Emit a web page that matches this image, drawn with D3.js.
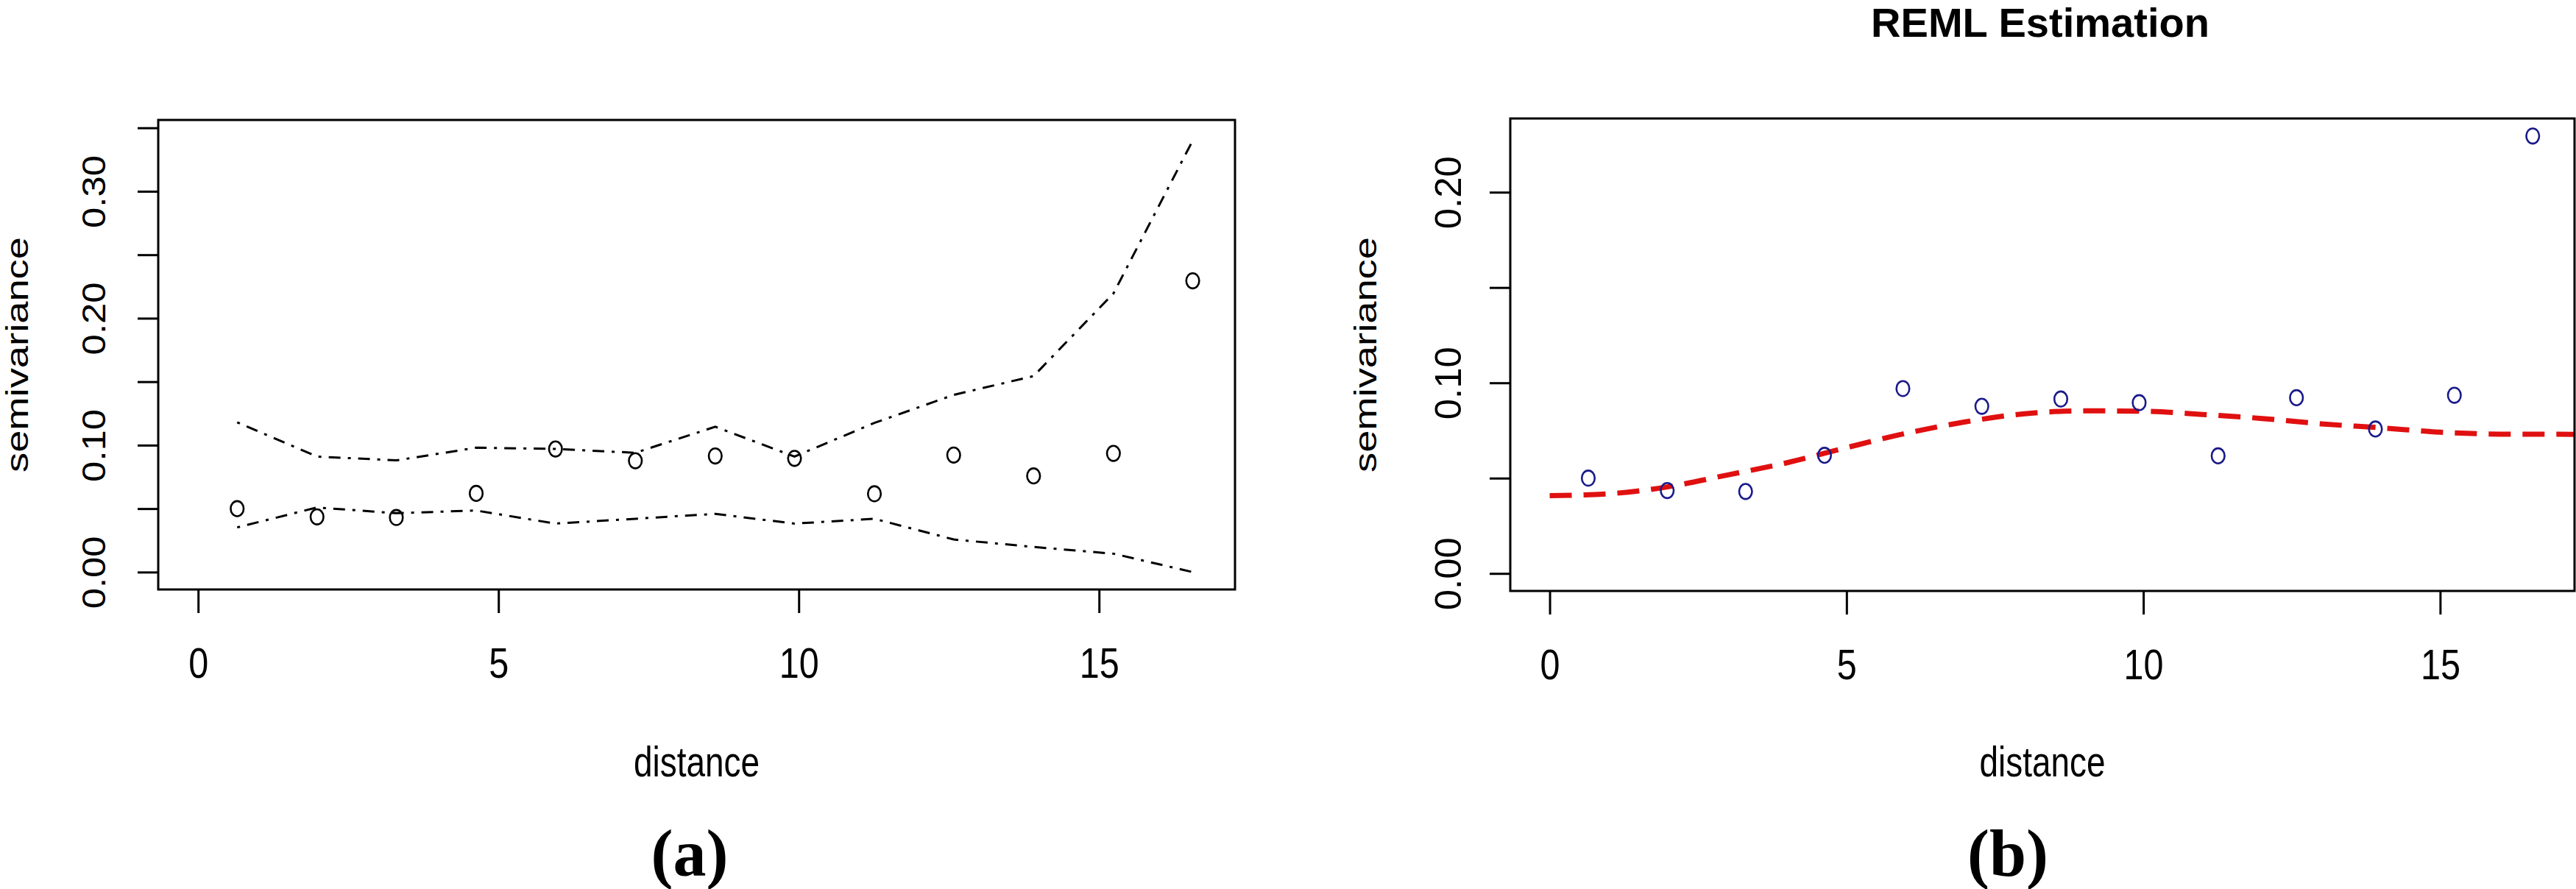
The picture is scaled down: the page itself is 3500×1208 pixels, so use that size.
<!DOCTYPE html>
<html>
<head>
<meta charset="utf-8">
<script src="https://cdn.jsdelivr.net/npm/d3@7"></script>
<style>
  body { margin: 0; background: #fff; }
</style>
</head>
<body>
<div id="screen"></div>
<script>
// lag bins (same for both panels)
const lagDist = [0.65, 1.98, 3.30, 4.63, 5.95, 7.28, 8.61, 9.93, 11.26, 12.58, 13.91, 15.24, 16.56];
const semivar = [0.050, 0.0435, 0.043, 0.062, 0.097, 0.0877, 0.0915, 0.0896, 0.0617, 0.0922, 0.0758, 0.0935, 0.2295];

// (a) envelope from simulations
const envUpper = [0.118, 0.091, 0.088, 0.098, 0.097, 0.094, 0.1145, 0.091, 0.1175, 0.1396, 0.1544, 0.2195, 0.34];
const envLower = [0.0352, 0.0509, 0.0464, 0.0485, 0.0382, 0.042, 0.0459, 0.0382, 0.042, 0.0257, 0.0198, 0.0145, 0.0];

// (b) fitted REML model
const fitDist = [0, 1, 2, 3, 4, 5, 6, 7, 8, 9, 10, 11, 12, 13, 14, 15, 16, 17.26];
const fitGamma = [0.0408, 0.0418, 0.0455, 0.0517, 0.0581, 0.066, 0.0735, 0.0795, 0.0838, 0.0853, 0.0851, 0.0834, 0.0813, 0.0785, 0.0764, 0.0741, 0.0731, 0.073];

const xLim = [0, 16.6];
const yLimA = [0, 0.3425];
const yLimB = [0, 0.2295];
const xTicks = [0, 5, 10, 15];
const yTicksA = [0, 0.05, 0.1, 0.15, 0.2, 0.25, 0.3, 0.35];
const yLabelsA = [0, 0.1, 0.2, 0.3];
const yTicksB = [0, 0.05, 0.1, 0.15, 0.2];
const yLabelsB = [0, 0.1, 0.2];

const sansFont = "'Liberation Sans', Arial, sans-serif";
const serifFont = "'Liberation Serif', 'Times New Roman', serif";

var svg = d3.select("#screen").append("svg").attr("width", 3500).attr("height", 1208);
svg.append("rect").attr("width", 3500).attr("height", 1208).attr("fill", "white");

// R style 4% axis extension
var pad = function(lim) {
    var r = lim[1] - lim[0];
    return [lim[0] - 0.04 * r, lim[1] + 0.04 * r];
};

var buildPanel = function(id, box, yLim, yTicks, yLabels, cfg) {
    var x = d3.scaleLinear().domain(pad(xLim)).range([box.left, box.right]);
    var y = d3.scaleLinear().domain(pad(yLim)).range([box.bottom, box.top]);
    var g = svg.append("g");

    // x axis
    var gx = g.append("g")
        .attr("transform", "translate(0," + box.bottom + ")")
        .call(d3.axisBottom(x).tickValues(xTicks).tickSize(32).tickSizeOuter(0).tickFormat(d3.format("d")));
    gx.select(".domain").remove();
    gx.selectAll("line").attr("stroke", "black").attr("stroke-width", 3);
    gx.selectAll("text")
        .attr("y", 120).attr("dy", null)
        .attr("fill", "black")
        .style("font-family", sansFont).style("font-size", "58px")
        .attr("textLength", d => 27 * String(d).length)
        .attr("lengthAdjust", "spacingAndGlyphs");

    // y axis, rotated labels like R
    var gy = g.append("g")
        .attr("transform", "translate(" + box.left + ",0)")
        .call(d3.axisLeft(y).tickValues(yTicks).tickSize(28).tickSizeOuter(0)
            .tickFormat(d => yLabels.indexOf(d) >= 0 ? d3.format(".2f")(d) : ""));
    gy.select(".domain").remove();
    gy.selectAll("line").attr("stroke", "black").attr("stroke-width", 3);
    gy.selectAll("text")
        .attr("x", null).attr("dy", null)
        .attr("text-anchor", "middle")
        .attr("transform", "translate(" + (cfg.yLabelX - box.left) + ",0) rotate(-90)")
        .attr("fill", "black")
        .style("font-family", sansFont).style("font-size", cfg.yTickFont + "px")
        .attr("textLength", 99)
        .attr("lengthAdjust", "spacingAndGlyphs");

    // axis titles
    g.append("text")
        .attr("x", (box.left + box.right) / 2).attr("y", 1055)
        .attr("text-anchor", "middle")
        .style("font-family", sansFont).style("font-size", "58px")
        .attr("textLength", 171).attr("lengthAdjust", "spacingAndGlyphs")
        .text("distance");
    g.append("text")
        .attr("transform", "translate(" + cfg.titleX + "," + (box.top + box.bottom) / 2 + ") rotate(-90)")
        .attr("text-anchor", "middle")
        .style("font-family", sansFont).style("font-size", "42px")
        .attr("textLength", 320).attr("lengthAdjust", "spacingAndGlyphs")
        .text("semivariance");

    // panel letter
    g.append("text")
        .attr("x", cfg.letterX).attr("y", 1190)
        .attr("text-anchor", "middle")
        .style("font-family", serifFont).style("font-size", "90px").style("font-weight", "bold")
        .text(cfg.letter);

    g.append("clipPath").attr("id", id)
        .append("rect")
        .attr("x", box.left).attr("y", box.top)
        .attr("width", box.right - box.left).attr("height", box.bottom - box.top);

    var plot = g.append("g").attr("clip-path", "url(#" + id + ")");

    g.append("rect")
        .attr("x", box.left).attr("y", box.top)
        .attr("width", box.right - box.left).attr("height", box.bottom - box.top)
        .attr("fill", "none").attr("stroke", "black").attr("stroke-width", 3);

    return {x: x, y: y, plot: plot, g: g};
};

var drawPoints = function(p, colour) {
    p.plot.selectAll(null)
        .data(lagDist)
        .enter().append("ellipse")
        .attr("cx", d => p.x(d))
        .attr("cy", (d, i) => p.y(semivar[i]))
        .attr("rx", 8.8).attr("ry", 10.3)
        .attr("fill", "none").attr("stroke", colour).attr("stroke-width", 2.6);
};

// ---- (a) empirical variogram with envelope
var pa = buildPanel("clipA", {left: 215, right: 1678, top: 163, bottom: 801}, yLimA, yTicksA, yLabelsA,
    {yLabelX: 143, yTickFont: 44, titleX: 38, letter: "(a)", letterX: 937});

var envLine = d3.line().x(d => pa.x(d[0])).y(d => pa.y(d[1]));
[envUpper, envLower].forEach(function(env) {
    pa.plot.append("path")
        .attr("d", envLine(lagDist.map((d, i) => [d, env[i]])))
        .attr("fill", "none").attr("stroke", "black").attr("stroke-width", 3)
        .attr("stroke-dasharray", "4,10,16,10");
});
drawPoints(pa, "black");

// ---- (b) REML fit
var pb = buildPanel("clipB", {left: 2052, right: 3498, top: 161, bottom: 803}, yLimB, yTicksB, yLabelsB,
    {yLabelX: 1985, yTickFont: 50, titleX: 1870, letter: "(b)", letterX: 2728});

var fitLine = d3.line().x(d => pb.x(d[0])).y(d => pb.y(d[1])).curve(d3.curveMonotoneX);
pb.plot.append("path")
    .attr("d", fitLine(fitDist.map((d, i) => [d, fitGamma[i]])))
    .attr("fill", "none").attr("stroke", "#e01010").attr("stroke-width", 7)
    .attr("stroke-dasharray", "30,16");
drawPoints(pb, "#1a1a8a");

svg.append("text")
    .attr("x", 2772).attr("y", 50)
    .attr("text-anchor", "middle")
    .style("font-family", sansFont).style("font-size", "56px").style("font-weight", "bold")
    .attr("textLength", 460).attr("lengthAdjust", "spacingAndGlyphs")
    .text("REML Estimation");
</script>
</body>
</html>
